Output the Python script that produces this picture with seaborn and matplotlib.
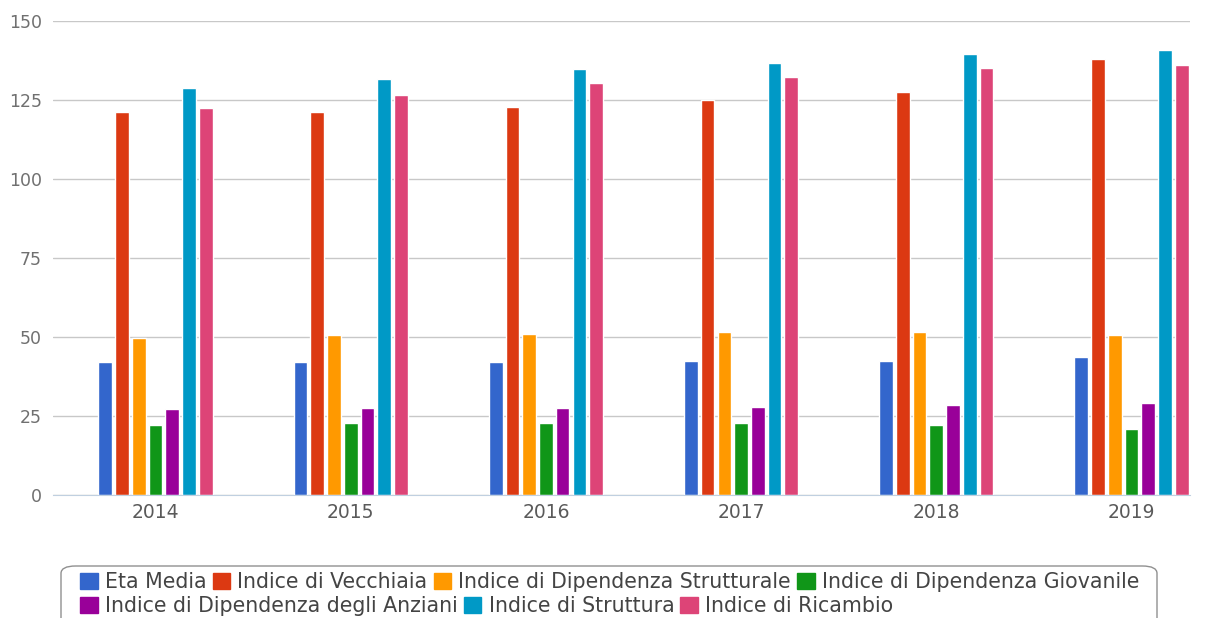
import matplotlib
matplotlib.use("Agg")
import matplotlib.pyplot as plt
from matplotlib.patches import Patch, FancyBboxPatch
import pandas as pd
import seaborn as sns

anni = ['2014', '2015', '2016', '2017', '2018', '2019']
indici = ['Eta Media', 'Indice di Vecchiaia', 'Indice di Dipendenza Strutturale',
          'Indice di Dipendenza Giovanile', 'Indice di Dipendenza degli Anziani',
          'Indice di Struttura', 'Indice di Ricambio']

eta_media = [42.2, 42.2, 42.1, 42.5, 42.5, 43.6]
vecchiaia = [121.1, 121.1, 122.8, 125.0, 127.4, 138.0]
dip_strutturale = [49.8, 50.5, 51.0, 51.6, 51.6, 50.5]
dip_giovanile = [22.2, 22.7, 22.8, 22.7, 22.2, 20.8]
dip_anziani = [27.1, 27.6, 27.5, 27.9, 28.5, 29.0]
struttura = [128.9, 131.8, 134.8, 136.6, 139.6, 140.8]
ricambio = [122.4, 126.6, 130.4, 132.2, 135.1, 136.1]

colori = ['#3366cc', '#dc3912', '#ff9900', '#109618', '#990099', '#0099c6', '#dd4477']

serie = [eta_media, vecchiaia, dip_strutturale, dip_giovanile, dip_anziani, struttura, ricambio]
righe = []
for nome, valori in zip(indici, serie):
    for anno, v in zip(anni, valori):
        righe.append({'anno': anno, 'indice': nome, 'valore': v})
df = pd.DataFrame(righe)

sns.set_style('white')
plt.rcParams['font.family'] = ['DejaVu Sans']

W, H = 1216, 618
fig = plt.figure(figsize=(W / 100, H / 100), dpi=100)
ax = fig.add_axes([53 / W, (H - 495) / H, (1190 - 53) / W, (495 - 21) / H])

sns.barplot(data=df, x='anno', y='valore', hue='indice', hue_order=indici,
            order=anni, palette=colori, width=0.6, gap=0.18, ax=ax,
            legend=False, errorbar=None, saturation=1)

# larghezza categoria ~195 px, primo centro a x=155
cat = 195.2
ax.set_xlim(-(155.5 - 53) / cat, (1190 - 155.5) / cat)
ax.set_ylim(0, 150)
ax.set_yticks(range(0, 151, 25))
ax.grid(axis='y', color='#c8c8c8', linewidth=1)
ax.set_axisbelow(True)
for s in ['top', 'right', 'left']:
    ax.spines[s].set_visible(False)
ax.spines['bottom'].set_color('#c0d0e0')
ax.set_xlabel('')
ax.set_ylabel('')
ax.tick_params(axis='y', length=0, labelsize=12.5, labelcolor='#707070', pad=8)
ax.tick_params(axis='x', which='major', length=0, labelsize=13.5, labelcolor='#5a5a5a', pad=6)
ax.set_xticks([i + 0.5 for i in range(5)], minor=True)
ax.tick_params(axis='x', which='minor', length=5, color='#c0d0e0', direction='out')

handles = [Patch(facecolor=c, edgecolor=c) for c in colori]
kw = dict(frameon=False, fontsize=14.8, handlelength=0.85, handleheight=0.85,
          handletextpad=0.35, columnspacing=0.3, borderpad=0, labelcolor='#444444')
leg1 = fig.legend(handles[:4], indici[:4], ncol=4, loc='center left',
                  bbox_to_anchor=(70 / W, (H - 582) / H), **kw)
leg2 = fig.legend(handles[4:], indici[4:], ncol=3, loc='center left',
                  bbox_to_anchor=(70 / W, (H - 606) / H), **kw)

box = FancyBboxPatch((61 / W, (H - 640) / H), (1157 - 61) / W, (640 - 566) / H,
                     boxstyle='round,pad=0,rounding_size=0.012',
                     transform=fig.transFigure, facecolor='none',
                     edgecolor='#909090', linewidth=1)
fig.patches.append(box)

fig.savefig('out.png', dpi=100)
